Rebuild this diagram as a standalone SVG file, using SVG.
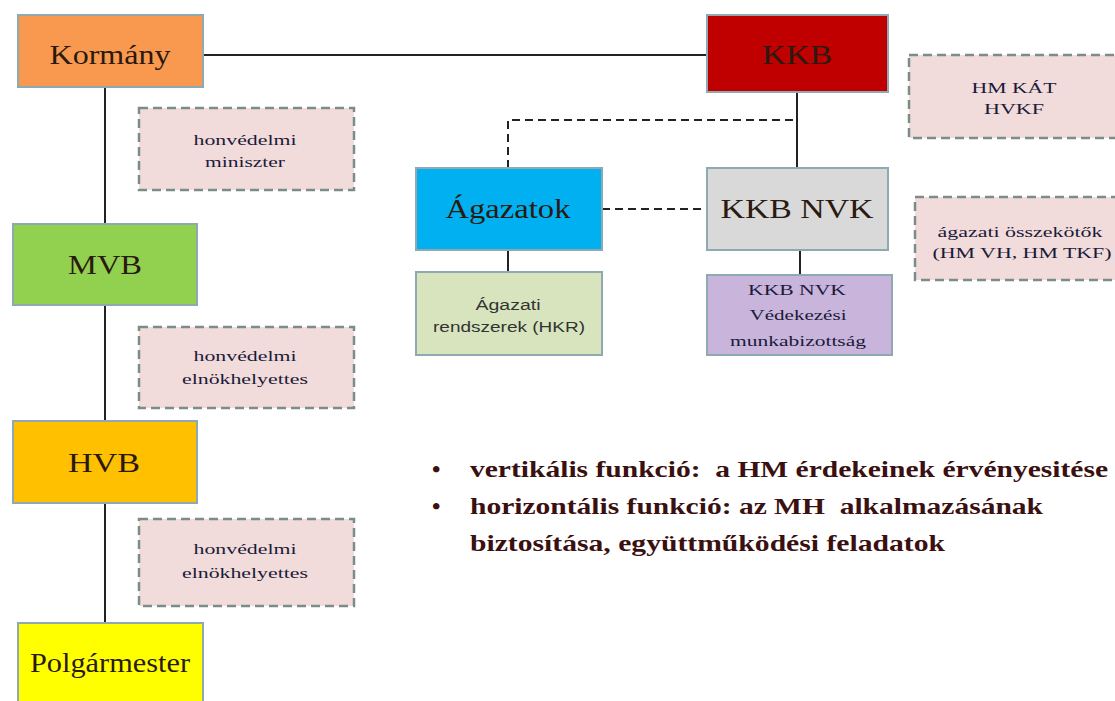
<svg xmlns="http://www.w3.org/2000/svg" width="1115" height="701" viewBox="0 0 1115 701">
<style>
.node{stroke:#8FA9B3;stroke-width:2}
.note{fill:#F2DCDB;stroke:#7C8C88;stroke-width:2.5;stroke-dasharray:9 5}
.big{font-family:"Liberation Serif",serif;font-size:28px;fill:#2a1a10;text-anchor:middle}
.small{font-family:"Liberation Serif",serif;font-size:15px;fill:#1a1a3a;text-anchor:middle}
.sans{font-family:"Liberation Sans",sans-serif;font-size:14px;fill:#333;text-anchor:middle}
.bul{font-family:"Liberation Serif",serif;font-size:24px;font-weight:bold;fill:#3a1010}
.line{stroke:#222;stroke-width:2;fill:none}
.dash{stroke:#222;stroke-width:2;fill:none;stroke-dasharray:8 5}
</style>
<rect width="1115" height="701" fill="#fff"/>
<g id="connectors">
<line class="line" x1="105" y1="87" x2="105" y2="623"/>
<line class="line" x1="203" y1="55" x2="707" y2="55"/>
<line class="line" x1="797" y1="92" x2="797" y2="168"/>
<polyline class="dash" points="508,168 508,120 797,120"/>
<line class="dash" x1="602" y1="209" x2="707" y2="209"/>
<line class="line" x1="508" y1="250" x2="508" y2="272"/>
<line class="line" x1="800" y1="250" x2="800" y2="275"/>
</g>
<g id="kormany"><rect class="node" x="18" y="15" width="185" height="72" fill="#F9994F"/><text class="big" x="110" y="64" textLength="121" lengthAdjust="spacingAndGlyphs">Kormány</text></g>
<g id="kkb"><rect class="node" x="707" y="15" width="181" height="77" fill="#C00000"/><text class="big" x="797" y="64" textLength="70" lengthAdjust="spacingAndGlyphs" fill="#2a0505">KKB</text></g>
<g id="hmkat"><rect class="note" x="909" y="55" width="210" height="83"/><text class="small" x="1014" y="93" textLength="85" lengthAdjust="spacingAndGlyphs">HM KÁT</text><text class="small" x="1014" y="114" textLength="60" lengthAdjust="spacingAndGlyphs">HVKF</text></g>
<g id="miniszter"><rect class="note" x="139" y="108" width="215" height="82"/><text class="small" x="245" y="145" textLength="103" lengthAdjust="spacingAndGlyphs">honvédelmi</text><text class="small" x="245" y="167" textLength="80" lengthAdjust="spacingAndGlyphs">miniszter</text></g>
<g id="agazatok"><rect class="node" x="416" y="168" width="186" height="82" fill="#00B0F0"/><text class="big" x="508" y="218" textLength="125" lengthAdjust="spacingAndGlyphs">Ágazatok</text></g>
<g id="kkbnvk"><rect class="node" x="707" y="168" width="181" height="82" fill="#D9D9D9"/><text class="big" x="797" y="218" textLength="153" lengthAdjust="spacingAndGlyphs">KKB NVK</text></g>
<g id="osszekotok"><rect class="note" x="915" y="197" width="204" height="83"/><text class="small" x="1020" y="237" textLength="165" lengthAdjust="spacingAndGlyphs">ágazati összekötők</text><text class="small" x="1022" y="258" textLength="179" lengthAdjust="spacingAndGlyphs">(HM VH, HM TKF)</text></g>
<g id="mvb"><rect class="node" x="13" y="224" width="184" height="81" fill="#92D050"/><text class="big" x="105" y="274" textLength="74" lengthAdjust="spacingAndGlyphs">MVB</text></g>
<g id="agazati-rendszerek"><rect class="node" x="416" y="272" width="186" height="83" fill="#D7E4BD"/><text class="sans" x="508" y="310" textLength="65" lengthAdjust="spacingAndGlyphs">Ágazati</text><text class="sans" x="509" y="332" textLength="152" lengthAdjust="spacingAndGlyphs">rendszerek (HKR)</text></g>
<g id="vedekezesi"><rect class="node" x="707" y="275" width="185" height="80" fill="#C9B5DC"/><text class="small" x="797" y="295" fill="#2a1a1a" textLength="98" lengthAdjust="spacingAndGlyphs">KKB NVK</text><text class="small" x="798" y="320" fill="#2a1a1a" textLength="97" lengthAdjust="spacingAndGlyphs">Védekezési</text><text class="small" x="798" y="346" fill="#2a1a1a" textLength="136" lengthAdjust="spacingAndGlyphs">munkabizottság</text></g>
<g id="elnokhelyettes1"><rect class="note" x="139" y="327" width="215" height="81"/><text class="small" x="245" y="361" textLength="103" lengthAdjust="spacingAndGlyphs">honvédelmi</text><text class="small" x="245" y="384" textLength="126" lengthAdjust="spacingAndGlyphs">elnökhelyettes</text></g>
<g id="hvb"><rect class="node" x="13" y="421" width="184" height="82" fill="#FFC000"/><text class="big" x="104" y="472" textLength="72" lengthAdjust="spacingAndGlyphs">HVB</text></g>
<g id="elnokhelyettes2"><rect class="note" x="139" y="519" width="215" height="87"/><text class="small" x="245" y="554" textLength="103" lengthAdjust="spacingAndGlyphs">honvédelmi</text><text class="small" x="245" y="578" textLength="126" lengthAdjust="spacingAndGlyphs">elnökhelyettes</text></g>
<g id="polgarmester"><rect class="node" x="18" y="623" width="185" height="80" fill="#FFFF00"/><text class="big" x="110" y="672" font-size="24" textLength="160" lengthAdjust="spacingAndGlyphs">Polgármester</text></g>
<g id="bullets">
<text class="bul" x="432" y="477">•</text>
<text class="bul" x="470" y="477" textLength="638" lengthAdjust="spacingAndGlyphs" xml:space="preserve">vertikális funkció:  a HM érdekeinek érvényesitése</text>
<text class="bul" x="432" y="514">•</text>
<text class="bul" x="470" y="514" textLength="573" lengthAdjust="spacingAndGlyphs" xml:space="preserve">horizontális funkció: az MH  alkalmazásának</text>
<text class="bul" x="470" y="551" textLength="475" lengthAdjust="spacingAndGlyphs">biztosítása, együttműködési feladatok</text>
</g>
</svg>
